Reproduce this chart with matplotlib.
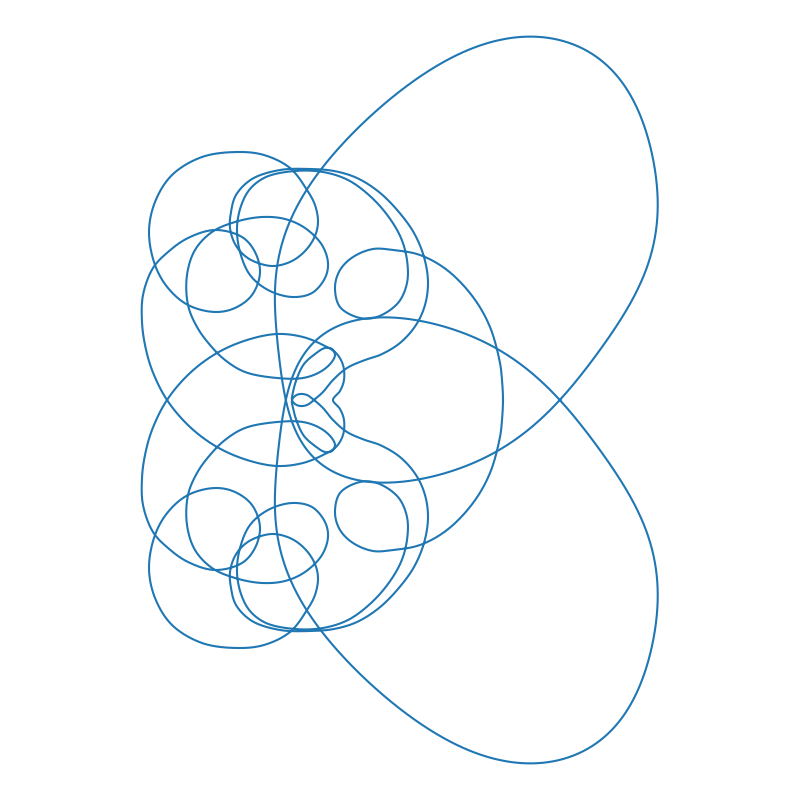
import numpy as np
import matplotlib
matplotlib.use("Agg")
import matplotlib.pyplot as plt

# Curve is symmetric about the horizontal line y = AXIS_Y (image-style coords, y down)
AXIS_Y = 400

# Upper large lobe (closed loop); its mirror gives the lower lobe
lobe_x = [560, 580, 613, 640, 655, 657, 650, 633, 607, 570, 528, 487, 443, 400, 360, 323, 293, 280, 275, 278,
          286, 292, 297, 307, 327, 357, 387, 413, 453, 495, 520]
lobe_y = [400, 375, 332, 285, 232, 185, 142, 102, 65, 43, 37, 43, 62, 92, 125, 168, 212, 258, 325, 367,
          390, 410, 438, 455, 468, 478, 482, 482, 470, 452, 437]

# First half of the main curve (from right axis point into the left cluster)
pathB_x = [503, 502, 500, 490, 473, 447, 420, 393, 373, 353, 340, 335, 340, 360, 377, 398, 407, 407, 401, 388,
           370, 348, 323, 295, 266, 250, 241, 237, 240, 250, 268, 292, 312, 325, 328, 322, 305, 285, 262, 235,
           212, 195, 187, 188, 197, 210, 225, 245, 277, 303, 320, 331, 335, 332, 325, 315, 304, 297, 293, 292]
pathB_y = [400, 380, 363, 327, 297, 270, 255, 250, 249, 257, 270, 287, 307, 318, 317, 303, 283, 260, 238, 216,
           196, 180, 172, 171, 177, 189, 206, 228, 252, 275, 290, 297, 293, 278, 263, 245, 228, 219, 217, 222,
           232, 250, 275, 305, 327, 345, 360, 372, 378, 378, 372, 363, 355, 349, 348, 354, 364, 378, 392, 400]

# Second half (teardrop, outer arc, small loops, left circle, heart notch)
pathA_x = [292, 295, 300, 307, 314, 323, 333, 347, 365, 380, 400, 416, 425, 428, 424, 414, 398, 379, 357, 334,
           310, 280, 252, 236, 231, 230, 235, 245, 258, 274, 292, 306, 315, 318, 315, 307, 290, 264, 237, 202,
           172, 155, 149, 155, 168, 188, 215, 235, 252, 260, 255, 242, 215, 188, 168, 153, 143, 142, 145, 152,
           167, 190, 217, 247, 277, 303, 323, 336, 343, 344, 340, 333]
pathA_y = [400, 404, 406, 405, 400, 392, 380, 368, 360, 355, 343, 325, 305, 282, 257, 233, 211, 192, 178, 171,
           169, 170, 179, 195, 212, 228, 244, 256, 263, 266, 261, 250, 236, 222, 205, 190, 168, 155, 152, 157,
           175, 202, 232, 265, 288, 305, 312, 308, 295, 273, 252, 237, 230, 238, 252, 268, 295, 322, 345, 370,
           400, 427, 447, 460, 466, 463, 455, 447, 435, 420, 409, 400]

LINE_COLOR = "#1f77b4"


def catmull_rom(px, py, closed, n=24, alpha=0.5):
    P = np.column_stack([px, py]).astype(float)
    if closed:
        P = np.vstack([P[-1], P, P[0], P[1]])
    else:
        P = np.vstack([2 * P[0] - P[1], P, 2 * P[-1] - P[-2]])
    out = []
    for i in range(1, len(P) - 2):
        p0, p1, p2, p3 = P[i - 1], P[i], P[i + 1], P[i + 2]
        t0 = 0.0
        t1 = t0 + max(np.linalg.norm(p1 - p0), 1e-6) ** alpha
        t2 = t1 + max(np.linalg.norm(p2 - p1), 1e-6) ** alpha
        t3 = t2 + max(np.linalg.norm(p3 - p2), 1e-6) ** alpha
        t = np.linspace(t1, t2, n, endpoint=False)[:, None]
        A1 = (t1 - t) / (t1 - t0) * p0 + (t - t0) / (t1 - t0) * p1
        A2 = (t2 - t) / (t2 - t1) * p1 + (t - t1) / (t2 - t1) * p2
        A3 = (t3 - t) / (t3 - t2) * p2 + (t - t2) / (t3 - t2) * p3
        B1 = (t2 - t) / (t2 - t0) * A1 + (t - t0) / (t2 - t0) * A2
        B2 = (t3 - t) / (t3 - t1) * A2 + (t - t1) / (t3 - t1) * A3
        C = (t2 - t) / (t2 - t1) * B1 + (t - t1) / (t2 - t1) * B2
        out.append(C)
    out = np.vstack(out)
    if closed:
        out = np.vstack([out, out[:1]])
    else:
        out = np.vstack([out, P[-2]])
    return out[:, 0], out[:, 1]


def fourier_loop(px, py, harmonics=6, n=1000):
    """Smooth closed loop: least-squares Fourier fit over chord-length parameter."""
    P = np.column_stack([px, py]).astype(float)
    d = np.linalg.norm(np.diff(np.vstack([P, P[:1]]), axis=0), axis=1)
    s = np.concatenate([[0], np.cumsum(d)[:-1]]) / d.sum() * 2 * np.pi

    def design(t):
        cols = [np.ones_like(t)]
        for k in range(1, harmonics + 1):
            cols += [np.cos(k * t), np.sin(k * t)]
        return np.column_stack(cols)

    A = design(s)
    cx, *_ = np.linalg.lstsq(A, P[:, 0], rcond=None)
    cy, *_ = np.linalg.lstsq(A, P[:, 1], rcond=None)
    tt = np.linspace(0, 2 * np.pi, n)
    D = design(tt)
    return D @ cx, D @ cy


def mirror(ys):
    return [2 * AXIS_Y - y for y in ys]


fig = plt.figure(figsize=(8, 8), dpi=100)
ax = fig.add_axes([0, 0, 1, 1])

# main curve: half = B + A, then mirrored half closes the loop
half_x = pathB_x + pathA_x[1:]
half_y = pathB_y + pathA_y[1:]
full_x = half_x + half_x[-2:0:-1]
full_y = half_y + mirror(half_y[-2:0:-1])
cx, cy = catmull_rom(full_x, full_y, closed=True)
ax.plot(cx, cy, color=LINE_COLOR, lw=1.5)

# lobes
lx, ly = fourier_loop(lobe_x, lobe_y, harmonics=7)
ax.plot(lx, ly, color=LINE_COLOR, lw=1.5)
ax.plot(lx, 2 * AXIS_Y - ly, color=LINE_COLOR, lw=1.5)

ax.set_xlim(0, 800)
ax.set_ylim(800, 0)
ax.axis("off")
fig.savefig("out.png", dpi=100)
